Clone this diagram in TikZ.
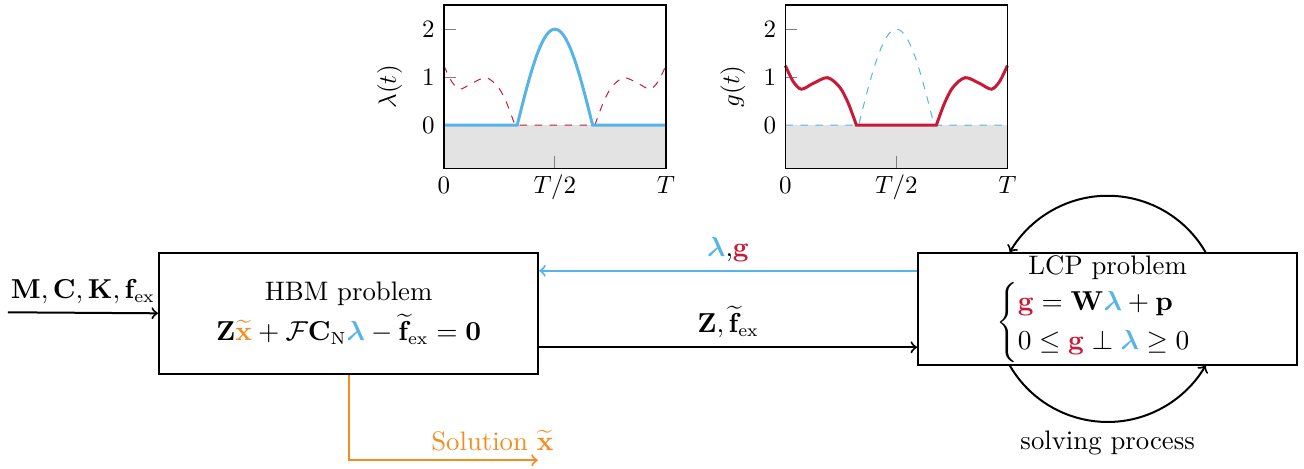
\documentclass[tikz,border=0pt]{standalone}
\usepackage{amsmath,amssymb}
\definecolor{lamblue}{RGB}{86,180,233}
\definecolor{gred}{RGB}{200,25,55}
\definecolor{solorange}{RGB}{245,140,30}
\newcommand{\diagfont}{\fontsize{10.7}{13}\selectfont}

% contact force and gap over one period
\newcommand{\lampath}{(0,0) -- (0.33,0) -- plot[domain=0.33:0.67, samples=41] (\x,{2*sin(180*(\x-0.33)/0.34)}) -- (1,0)}
\newcommand{\gpath}{plot[smooth] coordinates {(0,1.24) (0.035,0.91) (0.072,0.75) (0.125,0.87) (0.19,0.99) (0.245,0.79) (0.283,0.46) (0.32,0)} -- (0.68,0) -- plot[smooth] coordinates {(0.68,0) (0.717,0.46) (0.755,0.79) (0.81,0.99) (0.875,0.87) (0.928,0.75) (0.965,0.91) (1,1.24)}}

\begin{document}
\begin{tikzpicture}[thick,
  box/.style={draw, thick, fill=white, minimum width=5.33cm, align=center, font=\diagfont},
  lab/.style={font=\diagfont},
  ticklab/.style={text height=1.5ex, text depth=.25ex}]
\useasboundingbox (0,0) rectangle (18.33,6.58);

% lambda(t)
\begin{scope}[shift={(6.24,4.82)}, x=3.12cm, y=0.675cm]
\fill[gray!22] (0,-0.9) rectangle (1,0);
\draw[gray, thin] (0,1) -- +(0.17cm,0) (0,2) -- +(0.17cm,0) (0.5,-0.9) -- +(0,0.17cm);
\draw[gred, thin, dashed] \gpath;
\draw[lamblue, very thick] \lampath;
\draw[line width=0.6pt] (0,-0.9) rectangle (1,2.5);
\foreach \v in {0,1,2} \node[left] (ly\v) at (0,\v) {$\v$};
\node[below, ticklab] (lx0) at (0,-0.9) {$0$};
\node[below, ticklab] (lx1) at (0.5,-0.9) {$T/2$};
\node[below, ticklab] (lx2) at (1,-0.9) {$T$};
\node[rotate=90] (lylab) at (-0.245,0.8) {$\lambda(t)$};
\end{scope}

% g(t)
\begin{scope}[shift={(11.04,4.82)}, x=3.12cm, y=0.675cm]
\fill[gray!22] (0,-0.9) rectangle (1,0);
\draw[gray, thin] (0,1) -- +(0.17cm,0) (0,2) -- +(0.17cm,0) (0.5,-0.9) -- +(0,0.17cm);
\draw[lamblue, thin, dashed] \lampath;
\draw[gred, very thick] \gpath;
\draw[line width=0.6pt] (0,-0.9) rectangle (1,2.5);
\foreach \v in {0,1,2} \node[left] (gy\v) at (0,\v) {$\v$};
\node[below, ticklab] (gx0) at (0,-0.9) {$0$};
\node[below, ticklab] (gx1) at (0.5,-0.9) {$T/2$};
\node[below, ticklab] (gx2) at (1,-0.9) {$T$};
\node[rotate=90] (gylab) at (-0.237,0.8) {$g(t)$};
\end{scope}

\node[box, minimum height=1.7cm, anchor=north] (hbm) at (4.90,3.04) {HBM problem\\[3pt]
  $\mathbf{Z}{\color{solorange}\widetilde{\mathbf{x}}}+\mathcal{F}\mathbf{C}_\mathrm{N}{\color{lamblue}\boldsymbol{\lambda}}-\widetilde{\mathbf{f}}_\mathrm{ex}=\mathbf{0}$};
\node[box, minimum height=1.575cm, inner sep=0.5pt, anchor=north] (lcp) at (15.57,3.04) {LCP problem\\
  $\begin{cases}{\color{gred}\mathbf{g}}=\mathbf{W}{\color{lamblue}\boldsymbol{\lambda}}+\mathbf{p}\\
  0\leq{\color{gred}\mathbf{g}}\perp{\color{lamblue}\boldsymbol{\lambda}}\geq 0\end{cases}$};

\coordinate (in) at (0.11,2.19);
\coordinate (sol) at (7.56,0.11);

\draw[->] (in) -- (hbm.west) node[lab, midway, above] (inlab) {$\mathbf{M},\mathbf{C},\mathbf{K},\mathbf{f}_\mathrm{ex}$};
\draw[->, lamblue] ([yshift=0.535cm]lcp.west) -- ([yshift=0.535cm]lcp.west -| hbm.east)
  node[lab, midway, above] (lglab) {$\boldsymbol{\lambda}${\color{black},}$\color{gred}\mathbf{g}$};
\draw[->] ([yshift=-0.54cm]lcp.west -| hbm.east) -- ([yshift=-0.54cm]lcp.west)
  node[lab, midway, above] (zflab) {$\mathbf{Z},\widetilde{\mathbf{f}}_\mathrm{ex}$};
\draw[->, solorange] (hbm.south) |- (sol) node[lab, pos=0.88, above] (sollab) {Solution $\widetilde{\mathbf{x}}$};

% solving loop round the LCP box
\draw[->] (lcp.center) ++(30:1.59) arc[start angle=30, end angle=150, radius=1.59];
\draw[->] (lcp.center) ++(210:1.59) arc[start angle=210, end angle=330, radius=1.59];
\node[lab, below] (solv) at ([yshift=-1.59cm]lcp.center) {solving process};
\end{tikzpicture}
\end{document}
